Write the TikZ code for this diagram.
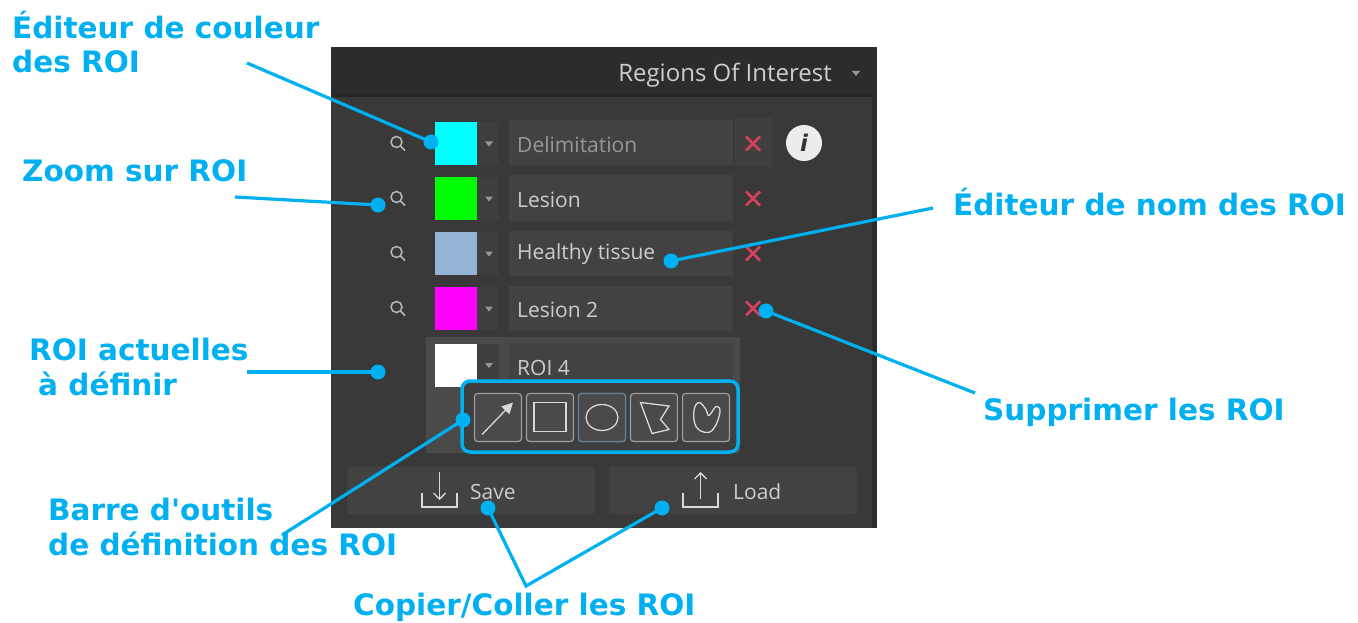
\documentclass[tikz,border=0pt]{standalone}
\usepackage{fontspec}
\newfontfamily\labelfont{DejaVu Sans}
\newfontfamily\uifont{Open Sans}
\usetikzlibrary{calc, arrows.meta}
\definecolor{roiblue}{HTML}{00B0F0}
\definecolor{paneldark}{HTML}{2B2C2E}
\definecolor{panelbody}{HTML}{393939}
\definecolor{fieldbg}{HTML}{424242}
\definecolor{dropbg}{HTML}{3E3E3E}
\definecolor{delbg}{HTML}{3F3F3F}
\definecolor{boxbg}{HTML}{4A4A4A}
\definecolor{barbg}{HTML}{3E3E3E}
\definecolor{uitext}{HTML}{CDCDCD}
\definecolor{uigrey}{HTML}{979797}
\definecolor{delred}{HTML}{D8405E}
\definecolor{roicyan}{HTML}{00FFFF}
\definecolor{roigreen}{HTML}{00FF00}
\definecolor{roimagenta}{HTML}{FF00FF}
\definecolor{tissue}{HTML}{95B3D7}

\begin{document}
\begin{tikzpicture}[x=1pt, y=-1pt,
	lbl/.style={font=\labelfont\bfseries\fontsize{29.5}{34.5}\selectfont, text=roiblue, anchor=base west, inner sep=0, align=left},
	uitxt/.style={font=\uifont\fontsize{21}{25}\selectfont, text=uitext, anchor=west, inner sep=0},
	pointer/.style={draw=roiblue, line width=3.2pt},
	dot/.style={circle, fill=roiblue, inner sep=0, minimum size=15pt},
	toolbtn/.style={draw=gray!75, fill=boxbg, line width=1.2pt, rounded corners=3pt, minimum width=47pt, minimum height=48pt, inner sep=0},
	bigbtn/.style={fill=fieldbg, rounded corners=3pt, minimum width=248pt, minimum height=47pt, inner sep=0},
	icon/.style={draw=gray!30, line width=1.3pt}]
	\useasboundingbox (0,0) rectangle (1358,623);
	\fill[white] (0,0) rectangle (1358,623);

	% panel
	\fill[paneldark] (331,47) rectangle (877,528);
	\fill[black!85] (331,95) rectangle (872,97);
	\fill[panelbody] (331,97) rectangle (872,528);
	\node[uitxt, anchor=east, font=\uifont\fontsize{24}{28}\selectfont] (title) at (832,75) {Regions Of Interest};
	\fill[uigrey] (852,71) -- (860,71) -- (856,76) -- cycle;

	% rows
	\fill[delbg, rounded corners=2pt] (735,118) rectangle (772,167);
	\foreach \cy/\sw/\txt/\tc [count=\i] in {143.5/roicyan/Delimitation/uigrey, 198.5/roigreen/Lesion/uitext, 253.5/tissue/Healthy tissue/uitext, 308.5/roimagenta/Lesion 2/uitext} {
		\fill[dropbg] (477,\cy-21.5) rectangle (499,\cy+21.5);
		\fill[\sw] (435,\cy-21.5) rectangle (477,\cy+21.5);
		\fill[uigrey] (485,\cy-2) -- (493,\cy-2) -- (489,\cy+3) -- cycle;
		\fill[fieldbg] (509,\cy-23) rectangle (733,\cy+22);
		\node[uitxt, text=\tc] (name\i) at (517,\cy+1) {\txt};
		\draw[delred, line width=2.8pt] (746,\cy-7) -- (760,\cy+7) (746,\cy+7) -- (760,\cy-7);
		\draw[gray!55, line width=1.5pt] (396.5,\cy-1.5) circle (5.5) (400.5,\cy+2.5) -- (405,\cy+7);
	}
	\fill[gray!15] (804,143) circle (18);
	\node[font=\labelfont\bfseries\itshape\fontsize{23}{23}\selectfont, text=black!80] (info) at (804,143) {i};

	% current ROI
	\fill[boxbg, rounded corners=2pt] (426,337) rectangle (740,453);
	\fill[dropbg] (477,344) rectangle (499,387);
	\fill[white] (435,344) rectangle (477,387);
	\fill[uigrey] (485,363) -- (493,363) -- (489,368) -- cycle;
	\fill[fieldbg] (509,343) rectangle (733,388);
	\node[uitxt] (name5) at (517,368) {ROI 4};

	% toolbar
	\draw[roiblue, fill=barbg, line width=3.5pt, rounded corners=8pt] (462,381) rectangle (738,452);
	\foreach \k in {0,...,4}
		\node[toolbtn] (tool\k) at (498+52*\k,417.5) {};
	\node[toolbtn, draw=tissue!70!black] at (tool2) {};
	\draw[icon, -{Triangle[length=11pt, width=11pt]}] ($(tool0)+(-16,17)$) -- ($(tool0)+(15,-15)$);
	\draw[icon] ($(tool1)+(-16,-15)$) rectangle ($(tool1)+(16,14)$);
	\draw[icon] (tool2) ellipse (16 and 13);
	\draw[icon] ($(tool3)+(-13.5,-15)$) -- ++(28.5,3.5) -- ++(-8.5,13.5) -- ++(8.5,10) -- ++(-17,4) -- cycle;
	\draw[icon] plot[smooth cycle, tension=0.7] coordinates {($(tool4)+(-12,-7)$) ($(tool4)+(-7,-15)$) ($(tool4)+(0,-8)$) ($(tool4)+(3,-2)$) ($(tool4)+(10,-11)$) ($(tool4)+(14,-6)$) ($(tool4)+(9,9)$) ($(tool4)+(1,15)$) ($(tool4)+(-10,9)$)};

	% save / load
	\node[bigbtn] (save) at (471,490.5) {};
	\node[bigbtn] (load) at (732.5,490.5) {};
	\draw[icon, -{Straight Barb[length=6pt, width=12pt]}] (439.5,472) -- (439.5,500);
	\draw[icon] (422,493) -- (422,507) -- (457,507) -- (457,493);
	\node[uitxt] (savetxt) at (470,492) {Save};
	\draw[icon, -{Straight Barb[length=6pt, width=12pt]}] (700.5,499) -- (700.5,472);
	\draw[icon] (683,493) -- (683,507) -- (718,507) -- (718,493);
	\node[uitxt] (loadtxt) at (733,492) {Load};

	% labels
	\node[lbl] (colL) at (12,73) {Éditeur de couleur\\des ROI};
	\node[lbl] (zoomL) at (22,182) {Zoom sur ROI};
	\node[lbl] (curL) at (29,395) {ROI actuelles\\\hspace{9pt}à définir};
	\node[lbl] (barL) at (48,555) {Barre d'outils\\de définition des ROI};
	\node[lbl] (copyL) at (353,615) {Copier/Coller les ROI};
	\node[lbl] (nameL) at (953,215) {Éditeur de nom des ROI};
	\node[lbl] (delL) at (983,420) {Supprimer les ROI};

	% pointers
	\coordinate (colS) at (247,63);
	\coordinate (zoomS) at (235,197);
	\coordinate (curS) at (247,372);
	\coordinate (barS) at (282,535);
	\coordinate (copyS) at (526,586);
	\coordinate (nameS) at (933,208);
	\coordinate (delS) at (975,393);
	\node[dot] (colD) at (431,142) {};
	\node[dot] (zoomD) at (378,205) {};
	\node[dot] (curD) at (378,372) {};
	\node[dot] (barD) at (463,420) {};
	\node[dot] (saveD) at (488,508) {};
	\node[dot] (loadD) at (662,508) {};
	\node[dot] (nameD) at (671,261) {};
	\node[dot] (delD) at (766,311) {};
	\draw[pointer] (colS) -- (colD.center);
	\draw[pointer] (zoomS) -- (zoomD.center);
	\draw[pointer] (curS) -- (curD.center);
	\draw[pointer] (barS) -- (barD.center);
	\draw[pointer] (saveD.center) -- (copyS) -- (loadD.center);
	\draw[pointer] (nameS) -- (nameD.center);
	\draw[pointer] (delS) -- (delD.center);
\end{tikzpicture}
\end{document}
